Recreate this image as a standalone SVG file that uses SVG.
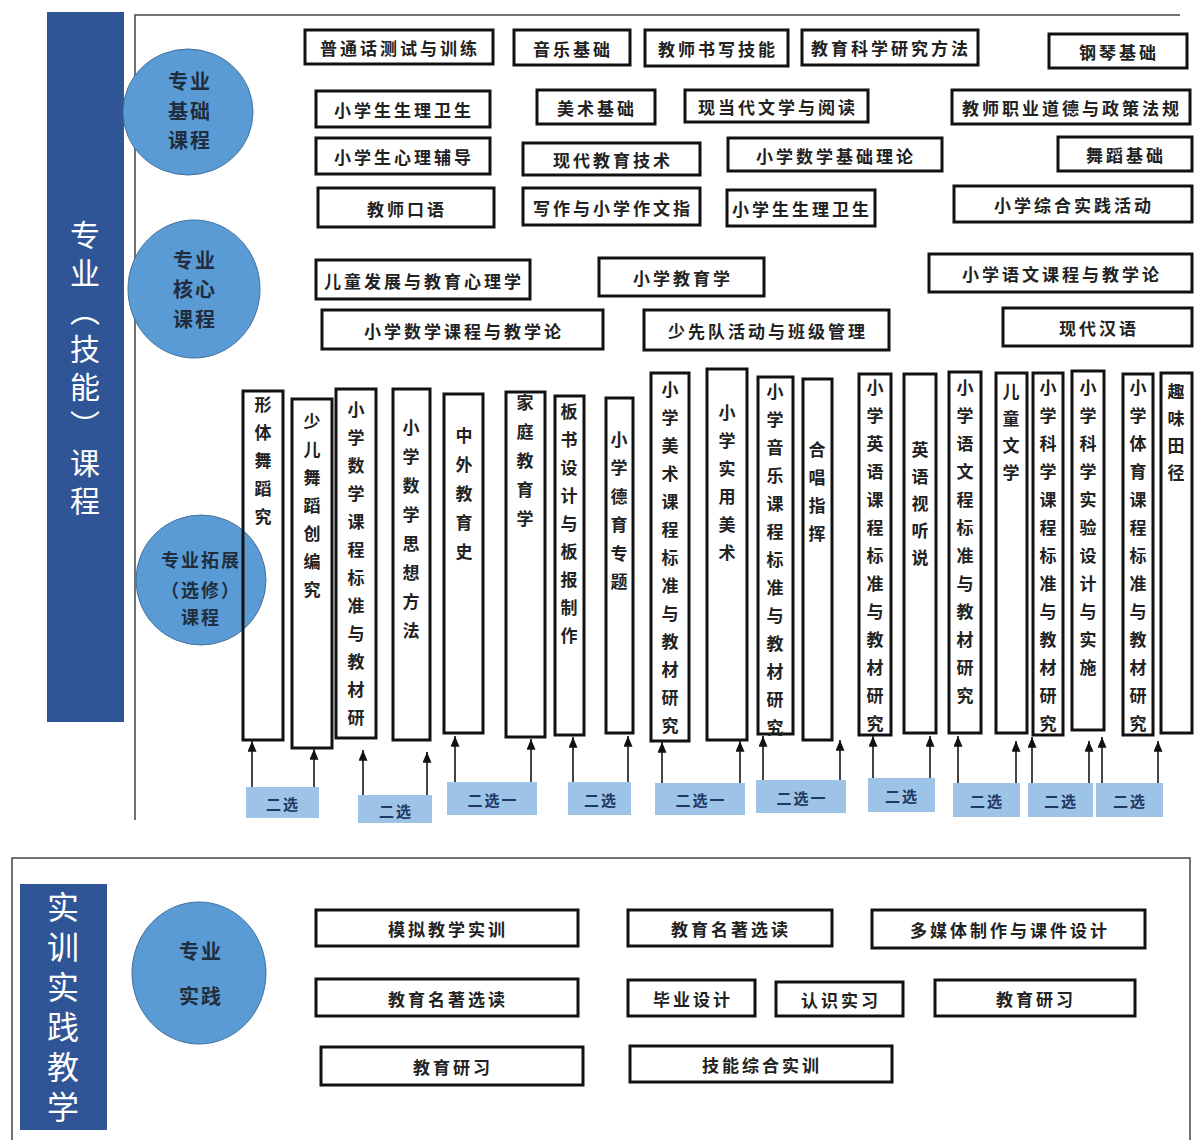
<svg xmlns="http://www.w3.org/2000/svg" width="1194" height="1140" viewBox="0 0 1194 1140">
<defs>
<style>
.bar{fill:#2F5597}
.ell{fill:#5B9BD5;stroke:#41719C;stroke-width:1}
.bx{fill:#fff;stroke:#111;stroke-width:3}
.col{fill:none;stroke:#111;stroke-width:3}
.sel{fill:#9DC3E6}
.frame{fill:none;stroke:#444;stroke-width:1.5}
.t{font-family:"Noto Sans CJK SC","Noto Sans CJK TC",sans-serif;font-size:17px;font-weight:bold;fill:#222;text-anchor:middle;dominant-baseline:central;letter-spacing:3px}
.vt{font-family:"Noto Sans CJK SC","Noto Sans CJK TC",sans-serif;font-size:17px;font-weight:bold;fill:#222;writing-mode:vertical-rl;letter-spacing:11px}
.bt{font-family:"Noto Sans CJK SC","Noto Sans CJK TC",sans-serif;fill:#fff;writing-mode:vertical-rl}
.et{font-family:"Noto Sans CJK SC","Noto Sans CJK TC",sans-serif;font-size:20px;font-weight:bold;fill:#1F2D3D;text-anchor:middle;dominant-baseline:central;letter-spacing:2px}
.st{font-family:"Noto Sans CJK SC","Noto Sans CJK TC",sans-serif;font-size:15px;font-weight:bold;fill:#1F3864;text-anchor:middle;dominant-baseline:central;letter-spacing:2px}
.ar{stroke:#444;stroke-width:2;fill:none;marker-end:url(#ah)}
</style>
<marker id="ah" viewBox="0 0 12 10" refX="12" refY="5" markerWidth="12" markerHeight="9" markerUnits="userSpaceOnUse" orient="auto">
<path d="M0,0 L12,5 L0,10 z" fill="#111"/>
</marker>
</defs>
<rect width="1194" height="1140" fill="#fff"/>

<!-- top section frame -->
<g id="top-frame">
<rect class="bar" x="47" y="12" width="77" height="710"/>
<text class="bt" x="85" y="220" style="font-size:30px;letter-spacing:8px">专业（技能）课程</text>
<path class="frame" d="M135,820 L135,15 L1180,15"/>
</g>

<g id="cat-basic"><ellipse class="ell" cx="188" cy="112" rx="65" ry="63"/>
<text class="et" x="190" y="80">专业</text><text class="et" x="190" y="110">基础</text><text class="et" x="190" y="139">课程</text></g>
<g id="cat-core"><ellipse class="ell" cx="194" cy="289" rx="66" ry="69"/>
<text class="et" x="195" y="259">专业</text><text class="et" x="195" y="288">核心</text><text class="et" x="195" y="318">课程</text></g>
<g id="cat-ext"><ellipse class="ell" cx="201" cy="580" rx="65" ry="65"/>
<text class="et" x="201" y="559" style="font-size:18px">专业拓展</text><text class="et" x="201" y="589" style="font-size:18px">（选修）</text><text class="et" x="201" y="616" style="font-size:18px">课程</text></g>

<!-- basic courses -->
<g id="b1"><rect class="bx" x="305" y="30" width="188" height="34"/><text class="t" x="400" y="47">普通话测试与训练</text></g>
<g id="b2"><rect class="bx" x="514" y="30" width="116" height="35"/><text class="t" x="573" y="48">音乐基础</text></g>
<g id="b3"><rect class="bx" x="645" y="30" width="143" height="36"/><text class="t" x="718" y="48">教师书写技能</text></g>
<g id="b4"><rect class="bx" x="802" y="30" width="176" height="35"/><text class="t" x="891" y="47">教育科学研究方法</text></g>
<g id="b5"><rect class="bx" x="1049" y="34" width="138" height="34"/><text class="t" x="1119" y="51">钢琴基础</text></g>
<g id="b6"><rect class="bx" x="316" y="91" width="174" height="36"/><text class="t" x="404" y="109">小学生生理卫生</text></g>
<g id="b7"><rect class="bx" x="537" y="90" width="118" height="34"/><text class="t" x="597" y="107">美术基础</text></g>
<g id="b8"><rect class="bx" x="685" y="90" width="183" height="32"/><text class="t" x="778" y="106">现当代文学与阅读</text></g>
<g id="b9"><rect class="bx" x="952" y="90" width="238" height="34"/><text class="t" x="1072" y="107">教师职业道德与政策法规</text></g>
<g id="b10"><rect class="bx" x="316" y="138" width="174" height="36"/><text class="t" x="404" y="156">小学生心理辅导</text></g>
<g id="b11"><rect class="bx" x="523" y="143" width="177" height="32"/><text class="t" x="613" y="159">现代教育技术</text></g>
<g id="b12"><rect class="bx" x="728" y="138" width="214" height="33"/><text class="t" x="836" y="155">小学数学基础理论</text></g>
<g id="b13"><rect class="bx" x="1058" y="137" width="134" height="34"/><text class="t" x="1126" y="154">舞蹈基础</text></g>
<g id="b14"><rect class="bx" x="318" y="188" width="176" height="39"/><text class="t" x="407" y="208">教师口语</text></g>
<g id="b15"><rect class="bx" x="523" y="188" width="177" height="37"/><text class="t" x="613" y="207">写作与小学作文指</text></g>
<g id="b16"><rect class="bx" x="727" y="190" width="148" height="36"/><text class="t" x="802" y="208">小学生生理卫生</text></g>
<g id="b17"><rect class="bx" x="954" y="186" width="238" height="36"/><text class="t" x="1074" y="204">小学综合实践活动</text></g>

<!-- core courses -->
<g id="c1"><rect class="bx" x="316" y="260" width="214" height="39"/><text class="t" x="424" y="280">儿童发展与教育心理学</text></g>
<g id="c2"><rect class="bx" x="599" y="258" width="165" height="38"/><text class="t" x="683" y="277">小学教育学</text></g>
<g id="c3"><rect class="bx" x="929" y="254" width="263" height="38"/><text class="t" x="1062" y="273">小学语文课程与教学论</text></g>
<g id="c4"><rect class="bx" x="322" y="310" width="281" height="39"/><text class="t" x="464" y="330">小学数学课程与教学论</text></g>
<g id="c5"><rect class="bx" x="644" y="310" width="245" height="40"/><text class="t" x="768" y="330">少先队活动与班级管理</text></g>
<g id="c6"><rect class="bx" x="1003" y="308" width="189" height="38"/><text class="t" x="1099" y="327">现代汉语</text></g>

<!-- elective columns -->
<g id="e1"><rect class="col" x="243" y="391" width="40" height="349"/><text class="vt" x="263" y="396">形体舞蹈究</text></g>
<g id="e2"><rect class="col" x="292" y="399" width="40" height="349"/><text class="vt" x="312" y="413">少儿舞蹈创编究</text></g>
<g id="e3"><rect class="col" x="336" y="389" width="40" height="349"/><text class="vt" x="356" y="401">小学数学课程标准与教材研</text></g>
<g id="e4"><rect class="col" x="393" y="389" width="37" height="351"/><text class="vt" x="411" y="419" style="letter-spacing:12px">小学数学思想方法</text></g>
<g id="e5"><rect class="col" x="444" y="394" width="39" height="339"/><text class="vt" x="464" y="427" style="letter-spacing:12px">中外教育史</text></g>
<g id="e6"><rect class="col" x="506" y="392" width="39" height="345"/><text class="vt" x="525" y="394" style="letter-spacing:12px">家庭教育学</text></g>
<g id="e7"><rect class="col" x="555" y="396" width="29" height="339"/><text class="vt" x="569" y="403">板书设计与板报制作</text></g>
<g id="e8"><rect class="col" x="606" y="398" width="27" height="335"/><text class="vt" x="619" y="431" style="letter-spacing:11.5px">小学德育专题</text></g>
<g id="e9"><rect class="col" x="651" y="373" width="38" height="368"/><text class="vt" x="670" y="381">小学美术课程标准与教材研究</text></g>
<g id="e10"><rect class="col" x="707" y="369" width="40" height="371"/><text class="vt" x="727" y="404">小学实用美术</text></g>
<g id="e11"><rect class="col" x="758" y="377" width="35" height="357"/><text class="vt" x="775" y="383">小学音乐课程标准与教材研究</text></g>
<g id="e12"><rect class="col" x="803" y="379" width="29" height="361"/><text class="vt" x="817" y="441">合唱指挥</text></g>
<g id="e13"><rect class="col" x="859" y="374" width="32" height="361"/><text class="vt" x="875" y="379">小学英语课程标准与教材研究</text></g>
<g id="e14"><rect class="col" x="904" y="374" width="32" height="359"/><text class="vt" x="920" y="441" style="letter-spacing:10px">英语视听说</text></g>
<g id="e15"><rect class="col" x="949" y="372" width="32" height="361"/><text class="vt" x="965" y="379">小学语文程标准与教材研究</text></g>
<g id="e16"><rect class="col" x="996" y="373" width="31" height="360"/><text class="vt" x="1011" y="383" style="letter-spacing:10px">儿童文学</text></g>
<g id="e17"><rect class="col" x="1033" y="373" width="30" height="362"/><text class="vt" x="1048" y="379">小学科学课程标准与教材研究</text></g>
<g id="e18"><rect class="col" x="1072" y="371" width="32" height="359"/><text class="vt" x="1088" y="379">小学科学实验设计与实施</text></g>
<g id="e19"><rect class="col" x="1123" y="374" width="30" height="361"/><text class="vt" x="1138" y="379">小学体育课程标准与教材研究</text></g>
<g id="e20"><rect class="col" x="1161" y="373" width="31" height="360"/><text class="vt" x="1176" y="383" style="letter-spacing:10px">趣味田径</text></g>

<!-- choice boxes -->
<g id="s1"><rect class="sel" x="246" y="787" width="73" height="31"/><text class="st" x="283" y="803">二选</text></g>
<g id="s2"><rect class="sel" x="358" y="795" width="74" height="28"/><text class="st" x="396" y="810">二选</text></g>
<g id="s3"><rect class="sel" x="447" y="782" width="90" height="33"/><text class="st" x="493" y="799">二选一</text></g>
<g id="s4"><rect class="sel" x="568" y="782" width="63" height="33"/><text class="st" x="601" y="799">二选</text></g>
<g id="s5"><rect class="sel" x="655" y="783" width="90" height="32"/><text class="st" x="701" y="799">二选一</text></g>
<g id="s6"><rect class="sel" x="756" y="780" width="90" height="33"/><text class="st" x="802" y="797">二选一</text></g>
<g id="s7"><rect class="sel" x="868" y="778" width="67" height="34"/><text class="st" x="902" y="795">二选</text></g>
<g id="s8"><rect class="sel" x="953" y="783" width="67" height="34"/><text class="st" x="987" y="800">二选</text></g>
<g id="s9"><rect class="sel" x="1028" y="783" width="65" height="34"/><text class="st" x="1061" y="800">二选</text></g>
<g id="s10"><rect class="sel" x="1096" y="783" width="67" height="34"/><text class="st" x="1130" y="800">二选</text></g>

<!-- connectors -->
<g id="connectors">
<line class="ar" x1="252" y1="787" x2="252" y2="741"/>
<line class="ar" x1="314" y1="787" x2="314" y2="749"/>
<line class="ar" x1="363" y1="795" x2="363" y2="750"/>
<line class="ar" x1="427" y1="795" x2="427" y2="752"/>
<line class="ar" x1="455" y1="782" x2="455" y2="736"/>
<line class="ar" x1="531" y1="782" x2="531" y2="739"/>
<line class="ar" x1="573" y1="782" x2="573" y2="737"/>
<line class="ar" x1="628" y1="782" x2="628" y2="736"/>
<line class="ar" x1="662" y1="783" x2="662" y2="742"/>
<line class="ar" x1="740" y1="783" x2="740" y2="741"/>
<line class="ar" x1="763" y1="780" x2="763" y2="736"/>
<line class="ar" x1="840" y1="780" x2="840" y2="740"/>
<line class="ar" x1="873" y1="778" x2="873" y2="736"/>
<line class="ar" x1="930" y1="778" x2="930" y2="736"/>
<line class="ar" x1="958" y1="783" x2="958" y2="736"/>
<line class="ar" x1="1016" y1="783" x2="1016" y2="741"/>
<line class="ar" x1="1032" y1="783" x2="1032" y2="737"/>
<line class="ar" x1="1089" y1="783" x2="1089" y2="741"/>
<line class="ar" x1="1102" y1="783" x2="1102" y2="737"/>
<line class="ar" x1="1158" y1="783" x2="1158" y2="741"/>
</g>

<!-- bottom section -->
<g id="bottom-frame">
<rect class="frame" x="12" y="858" width="1178" height="300"/>
<rect class="bar" x="20" y="884" width="87" height="246"/>
<text class="bt" x="63" y="891" style="font-size:32px;letter-spacing:8px">实训实践教学</text>
</g>
<g id="cat-practice"><ellipse class="ell" cx="199" cy="973" rx="67" ry="71"/>
<text class="et" x="201" y="950">专业</text><text class="et" x="201" y="995">实践</text></g>
<g id="p1"><rect class="bx" x="316" y="910" width="262" height="36"/><text class="t" x="448" y="928">模拟教学实训</text></g>
<g id="p2"><rect class="bx" x="316" y="979" width="262" height="37"/><text class="t" x="448" y="998">教育名著选读</text></g>
<g id="p3"><rect class="bx" x="321" y="1047" width="262" height="38"/><text class="t" x="453" y="1066">教育研习</text></g>
<g id="p4"><rect class="bx" x="628" y="910" width="204" height="36"/><text class="t" x="731" y="928">教育名著选读</text></g>
<g id="p5"><rect class="bx" x="872" y="910" width="273" height="38"/><text class="t" x="1010" y="929">多媒体制作与课件设计</text></g>
<g id="p6"><rect class="bx" x="628" y="980" width="127" height="36"/><text class="t" x="693" y="998">毕业设计</text></g>
<g id="p7"><rect class="bx" x="776" y="982" width="127" height="34"/><text class="t" x="841" y="999">认识实习</text></g>
<g id="p8"><rect class="bx" x="935" y="980" width="200" height="36"/><text class="t" x="1036" y="998">教育研习</text></g>
<g id="p9"><rect class="bx" x="630" y="1046" width="262" height="36"/><text class="t" x="762" y="1064">技能综合实训</text></g>
</svg>
